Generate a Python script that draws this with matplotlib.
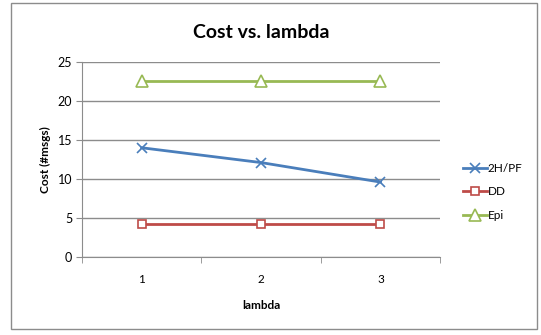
import matplotlib.pyplot as plt
from matplotlib.patches import Rectangle

# chart data
lambdas = [1, 2, 3]
cost_2hpf = [14.0, 12.1, 9.6]
cost_dd = [4.2, 4.2, 4.2]
cost_epi = [22.6, 22.6, 22.6]
yticks = [0, 5, 10, 15, 20, 25]

plt.rcParams['font.family'] = ['Lato', 'DejaVu Sans']

fig = plt.figure(figsize=(5.41, 3.35), dpi=100)
ax = fig.add_axes([0.1516, 0.233, 0.662, 0.582])

# outer chart frame
fig.patches.append(Rectangle((11 / 541, 6 / 335), 526 / 541, 326 / 335,
                             transform=fig.transFigure, fill=False,
                             edgecolor='#8c8c8c', linewidth=1))

ax.plot(lambdas, cost_2hpf, color='#4a7ebb', linewidth=2, marker='x',
        markersize=7, markeredgewidth=1.2, label='2H/PF', zorder=3)
ax.plot(lambdas, cost_dd, color='#be4b48', linewidth=2, marker='s',
        markersize=6, markerfacecolor='white', markeredgewidth=1.2,
        label='DD', zorder=3)
ax.plot(lambdas, cost_epi, color='#98b954', linewidth=2, marker='^',
        markersize=8, markerfacecolor='white', markeredgewidth=1.2,
        label='Epi', zorder=3)

ax.set_xlim(0.5, 3.5)
ax.set_ylim(0, 25)
ax.set_yticks(yticks)
ax.set_xticks(lambdas)
ax.set_xticks([0.5, 1.5, 2.5, 3.5], minor=True)
ax.tick_params(axis='x', which='major', length=0, pad=12, labelsize=8.5)
ax.tick_params(axis='x', which='minor', length=4, color='#8c8c8c')
ax.tick_params(axis='y', length=4, color='#8c8c8c', labelsize=9, pad=3)

ax.grid(axis='y', color='#8c8c8c', linewidth=1)
ax.set_axisbelow(True)
for side in ['top', 'right']:
    ax.spines[side].set_visible(False)
for side in ['left', 'bottom']:
    ax.spines[side].set_color('#8c8c8c')

ax.set_title('Cost vs. lambda', fontsize=14, fontweight='bold', pad=17)
ax.set_xlabel('lambda', fontsize=8.5, fontweight='bold', labelpad=11)
ax.set_ylabel('Cost (#msgs)', fontsize=8.5, fontweight='bold', labelpad=5)

ax.legend(loc='upper left', bbox_to_anchor=(457 / 541, 1 - 157 / 335),
          bbox_transform=fig.transFigure, frameon=False, fontsize=8.5,
          handlelength=2.0, handletextpad=0.1, labelspacing=1.05,
          borderpad=0)

fig.savefig('out.png', dpi=100)
